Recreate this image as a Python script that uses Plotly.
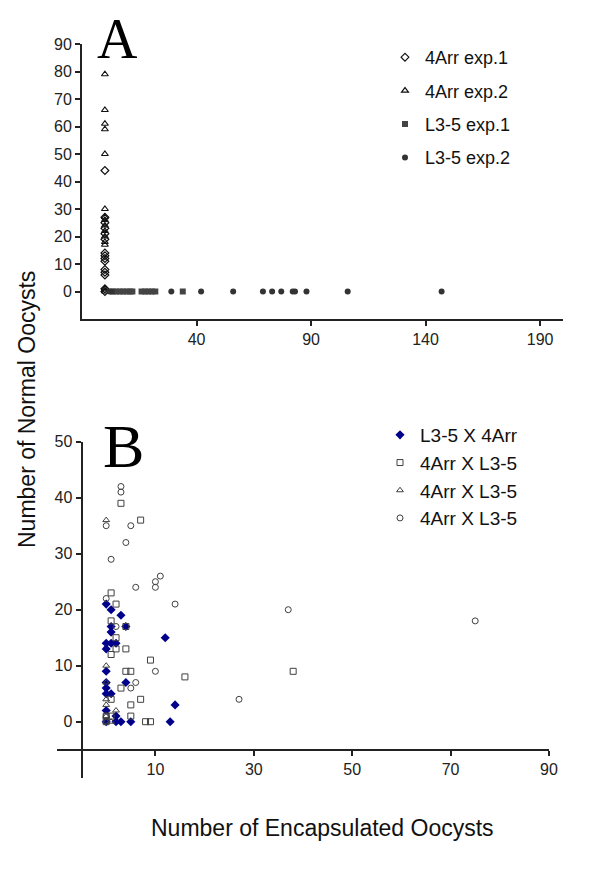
import plotly.graph_objects as go

# ---------------- Panel A data ----------------
a4_exp1_y = [44, 27, 25, 23, 21, 19, 14, 13, 12, 11, 8, 7, 6, 1, 0]
a4_exp1_x = [0] * len(a4_exp1_y)
a4_exp2_y = [79, 66, 61, 59, 50, 30, 27, 26, 24, 22, 20, 18, 17, 1, 0]
a4_exp2_x = [0] * len(a4_exp2_y)
l35_exp1_x = [3.5, 5, 6.5, 8, 9.5, 11, 12, 16, 17.5, 19, 20.5, 22, 34]
l35_exp1_y = [0] * len(l35_exp1_x)
l35_exp2_x = [2, 3, 29, 42, 56, 69, 73, 77, 82, 83, 88, 106, 147]
l35_exp2_y = [0] * len(l35_exp2_x)

a_xticks = [40, 90, 140, 190]
a_yticks = [0, 10, 20, 30, 40, 50, 60, 70, 80, 90]

# ---------------- Panel B data ----------------
b_l35x4_x = [0, 1, 3, 1, 4, 1, 0, 1, 2, 0, 12, 0, 4, 0, 0, 1, 0, 2, 14, 0, 2, 3, 5, 13, 0]
b_l35x4_y = [21, 20, 19, 17, 17, 16, 14, 14, 14, 13, 15, 9, 7, 6, 5, 5, 2, 1, 3, 0, 0, 0, 0, 0, 7]
b_sq_x = [3, 7, 1, 2, 1, 4, 2, 2, 4, 1, 9, 4, 5, 16, 3, 1, 7, 5, 5, 0, 1, 0, 8, 9, 38]
b_sq_y = [39, 36, 23, 21, 18, 17, 15, 13, 13, 12, 11, 9, 9, 8, 6, 4, 4, 3, 1, 1, 1, 0, 0, 0, 9]
b_tri_x = [0, 0, 0, 0, 0, 2, 1, 0, 0]
b_tri_y = [36, 10, 7, 4, 3, 2, 0, 1, 0]
b_circ_x = [3, 3, 0, 5, 4, 1, 6, 10, 10, 11, 14, 0, 2, 10, 6, 5, 27, 37, 75, 0]
b_circ_y = [42, 41, 35, 35, 32, 29, 24, 25, 24, 26, 21, 22, 17, 9, 7, 6, 4, 20, 18, 1]

b_xticks = [10, 30, 50, 70, 90]
b_yticks = [0, 10, 20, 30, 40, 50]

W, H = 600, 873
OFF = 8  # page body margin shifts the figure by this many pixels
FONT = "Arial, Liberation Sans, sans-serif"


def fx(px):
    return (px - OFF) / W


def fy(py):
    return 1 - (py - OFF) / H


# domains (pixel-based)
ax_dom = [fx(82), fx(563)]
ay_dom = [fy(319), fy(44)]
bx_dom = [fx(57), fx(549)]
by_dom = [fy(777.7), fy(441.7)]
a_xr, a_yr = [-10, 200], [-10, 90]
b_xr, b_yr = [-10, 90], [-10, 50]
cross_b = -5
bx_pos = by_dom[0] + (by_dom[1] - by_dom[0]) * (cross_b - b_yr[0]) / (b_yr[1] - b_yr[0])
by_pos = bx_dom[0] + (bx_dom[1] - bx_dom[0]) * (cross_b - b_xr[0]) / (b_xr[1] - b_xr[0])

fig = go.Figure()

fig.add_trace(go.Scatter(x=a4_exp1_x, y=a4_exp1_y, mode="markers", name="4Arr exp.1",
                         marker=dict(symbol="diamond-open", color="#111", size=6, line=dict(width=1.2)),
                         xaxis="x", yaxis="y", legend="legend", legendgroup="a1"))
fig.add_trace(go.Scatter(x=a4_exp2_x, y=a4_exp2_y, mode="markers", name="4Arr exp.2",
                         marker=dict(symbol="triangle-up-open", color="#111", size=6, line=dict(width=1.2)),
                         xaxis="x", yaxis="y", legend="legend", legendgroup="a2"))
fig.add_trace(go.Scatter(x=l35_exp1_x, y=l35_exp1_y, mode="markers", name="L3-5 exp.1",
                         marker=dict(symbol="square", color="#444", size=6, line=dict(width=0)),
                         xaxis="x", yaxis="y", legend="legend", legendgroup="a3"))
fig.add_trace(go.Scatter(x=l35_exp2_x, y=l35_exp2_y, mode="markers", name="L3-5 exp.2",
                         marker=dict(symbol="circle", color="#333", size=6, line=dict(width=0)),
                         xaxis="x", yaxis="y", legend="legend", legendgroup="a4"))

fig.add_trace(go.Scatter(x=b_l35x4_x, y=b_l35x4_y, mode="markers", name="L3-5 X 4Arr",
                         marker=dict(symbol="diamond", color="#00008B", size=7, line=dict(width=0)),
                         xaxis="x2", yaxis="y2", legend="legend2"))
fig.add_trace(go.Scatter(x=b_sq_x, y=b_sq_y, mode="markers", name="4Arr X L3-5",
                         marker=dict(symbol="square-open", color="#404040", size=6, line=dict(width=1)),
                         xaxis="x2", yaxis="y2", legend="legend2"))
fig.add_trace(go.Scatter(x=b_tri_x, y=b_tri_y, mode="markers", name="4Arr X L3-5",
                         marker=dict(symbol="triangle-up-open", color="#404040", size=6, line=dict(width=1)),
                         xaxis="x2", yaxis="y2", legend="legend2"))
fig.add_trace(go.Scatter(x=b_circ_x, y=b_circ_y, mode="markers", name="4Arr X L3-5",
                         marker=dict(symbol="circle-open", color="#404040", size=6, line=dict(width=1)),
                         xaxis="x2", yaxis="y2", legend="legend2"))

axis_common = dict(showgrid=False, zeroline=False, showline=True, linecolor="#222", linewidth=2,
                   ticks="outside", ticklen=5, tickwidth=2, tickcolor="#222", automargin=False,
                   tickfont=dict(family=FONT, size=16, color="#222"))

fig.update_layout(
    width=W, height=H,
    margin=dict(l=0, r=0, t=0, b=0, pad=0, autoexpand=False),
    paper_bgcolor="white", plot_bgcolor="white",
    xaxis=dict(domain=ax_dom, range=a_xr, tickvals=a_xticks, anchor="y", **axis_common),
    yaxis=dict(domain=ay_dom, range=a_yr, tickvals=a_yticks, anchor="x", **axis_common),
    xaxis2=dict(domain=bx_dom, range=b_xr, tickvals=b_xticks, anchor="free", position=bx_pos, **axis_common),
    yaxis2=dict(domain=by_dom, range=b_yr, tickvals=b_yticks, anchor="free", position=by_pos, **axis_common),
    legend=dict(x=fx(385), y=fy(39), xanchor="left", yanchor="top", bgcolor="rgba(0,0,0,0)",
                font=dict(family=FONT, size=18, color="#111"), tracegroupgap=7, itemwidth=30),
    legend2=dict(x=fx(380), y=fy(416), xanchor="left", yanchor="top", bgcolor="rgba(0,0,0,0)",
                 font=dict(family=FONT, size=19, color="#111"), itemwidth=30),
    showlegend=True,
    annotations=[
        dict(text="A", x=fx(117), y=fy(39), xref="paper", yref="paper", showarrow=False,
             xanchor="center", yanchor="middle",
             font=dict(family="Liberation Serif, Times New Roman, serif", size=56, color="black")),
        dict(text="B", x=fx(123), y=fy(446), xref="paper", yref="paper", showarrow=False,
             xanchor="center", yanchor="middle",
             font=dict(family="Liberation Serif, Times New Roman, serif", size=62, color="black")),
        dict(text="Number of Normal Oocysts", x=fx(27), y=fy(410), xref="paper", yref="paper",
             showarrow=False, textangle=-90, xanchor="center", yanchor="middle",
             font=dict(family=FONT, size=23, color="#111")),
        dict(text="Number of Encapsulated Oocysts", x=fx(322), y=fy(828), xref="paper", yref="paper",
             showarrow=False, xanchor="center", yanchor="middle",
             font=dict(family=FONT, size=23, color="#111")),
    ],
)

fig.write_html("out.html")
